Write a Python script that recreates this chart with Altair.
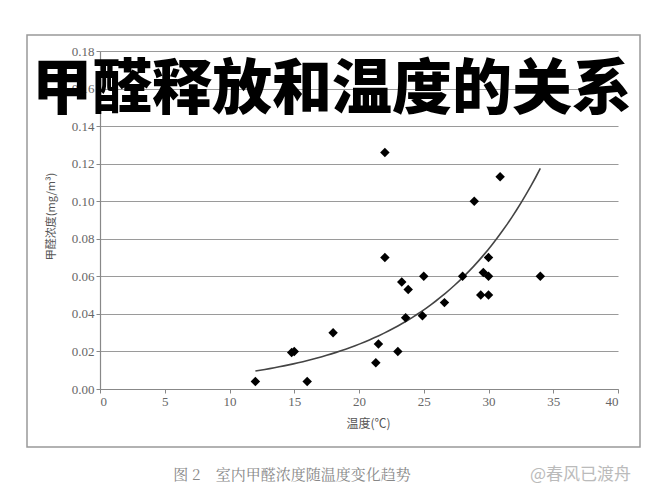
import altair as alt
import pandas as pd

temps = [12.0, 14.8, 15.0, 16.0, 18.0, 21.3, 21.5, 22.0, 22.0, 23.0, 23.3, 23.6, 23.8,
         24.9, 25.0, 26.6, 28.0, 28.9, 29.4, 29.6, 30.0, 30.0, 30.0, 30.9, 34.0]
concs = [0.004, 0.0195, 0.020, 0.004, 0.030, 0.014, 0.024, 0.126, 0.070, 0.020, 0.057, 0.038, 0.053,
         0.039, 0.060, 0.046, 0.060, 0.100, 0.050, 0.062, 0.060, 0.070, 0.050, 0.113, 0.060]

x_ticks = [0, 5, 10, 15, 20, 25, 30, 35, 40]
y_ticks = [0.00, 0.02, 0.04, 0.06, 0.08, 0.10, 0.12, 0.14, 0.16, 0.18]

title_text = "甲醛释放和温度的关系"
caption_text = "图 2\u00a0\u00a0\u00a0\u00a0室内甲醛浓度随温度变化趋势"
watermark_text = "@春风已渡舟"

df = pd.DataFrame({"temp": temps, "conc": concs})
one = alt.Data(values=[{"a": 1}])

serif = "Liberation Serif"

xs = alt.X("temp:Q", scale=alt.Scale(domain=[0, 40], nice=False),
           axis=alt.Axis(values=x_ticks, title="温度(℃)", grid=False, format="d",
                         titleFont="Noto Sans CJK SC", titleFontSize=12, titleFontWeight="normal",
                         titleColor="#555", titlePadding=10, titleX=268))
ys = alt.Y("conc:Q", scale=alt.Scale(domain=[0, 0.18], nice=False),
           axis=alt.Axis(values=y_ticks, title="甲醛浓度(mg/m³)", grid=True, format=".2f",
                         gridColor="#9a9a9a", gridWidth=1.2, labelOverlap=False,
                         titleFont="Noto Sans CJK SC", titleFontSize=11, titleFontWeight="normal",
                         titleColor="#555", titlePadding=15, titleY=165))

points = alt.Chart(df).mark_point(shape="diamond", filled=True, color="black", size=90, opacity=1).encode(
    x=xs, y=ys)

# exponential trend line (least squares on log(conc), as in a spreadsheet trendline)
curve = alt.Chart(df).transform_calculate(
    lc="log(datum.conc)"
).transform_joinaggregate(
    x0="min(temp)", x1="max(temp)"
).transform_regression(
    "temp", "lc", method="linear", params=True, groupby=["x0", "x1"]
).transform_calculate(
    xs="sequence(datum.keys[0], datum.keys[1] + 0.0001, (datum.keys[1] - datum.keys[0]) / 60)"
).transform_flatten(
    ["xs"]
).transform_calculate(
    temp="datum.xs", conc="exp(datum.coef[0] + datum.coef[1] * datum.xs)"
).mark_line(color="#444", strokeWidth=1.6).encode(x=xs, y=ys)

frame = alt.Chart(one).mark_rect(fill=None, stroke="#999", strokeWidth=1.5).encode(
    x=alt.value(-73), x2=alt.value(540), y=alt.value(-16), y2=alt.value(396))

title = alt.Chart(one).mark_text(text=title_text, font="Noto Sans CJK SC", fontWeight=900,
                                 fontSize=60, color="black", align="center", baseline="middle").encode(
    x=alt.value(232), y=alt.value(40))

caption = alt.Chart(one).mark_text(text=caption_text, font="Noto Serif CJK SC, Noto Sans CJK SC",
                                   fontSize=15, color="#888", align="center", baseline="middle").encode(
    x=alt.value(192), y=alt.value(424))

watermark = alt.Chart(one).mark_text(text=watermark_text, font="Noto Sans CJK SC",
                                     fontSize=17, color="#bbb", align="left", baseline="middle").encode(
    x=alt.value(430), y=alt.value(424))

chart = alt.layer(frame, curve, points, title, caption, watermark).properties(
    width=518, height=338,
    autosize=alt.AutoSizeParams(type="none"),
    padding={"left": 92, "top": 43, "right": 41, "bottom": 103},
    background="white",
).configure_view(strokeWidth=0).configure_axis(
    domainColor="#888", tickColor="#888", tickSize=4, labelFont=serif, labelFontSize=13,
    labelColor="#666", domainWidth=1.2
)

chart.save("out.html", embed_options={"renderer": "svg", "actions": False})
